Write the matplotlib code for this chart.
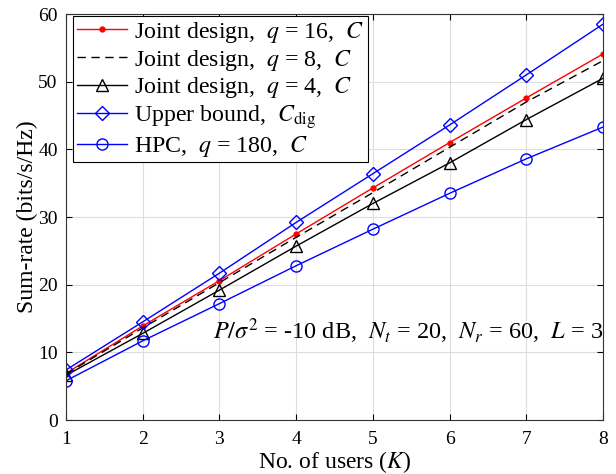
import matplotlib.pyplot as plt

plt.rcParams['font.family'] = ['Liberation Serif', 'DejaVu Serif']
plt.rcParams['mathtext.fontset'] = 'stix'

users = [1, 2, 3, 4, 5, 6, 7, 8]
joint_q16 = [6.9, 13.9, 20.6, 27.5, 34.3, 41.0, 47.6, 54.1]
joint_q8 = [6.8, 13.6, 20.3, 27.0, 33.6, 40.3, 47.0, 53.1]
joint_q4 = [6.6, 12.8, 19.2, 25.7, 32.0, 38.0, 44.4, 50.5]
upper = [7.4, 14.5, 21.7, 29.2, 36.4, 43.6, 51.0, 58.5]
hpc = [5.8, 11.7, 17.2, 22.8, 28.2, 33.5, 38.6, 43.3]

fig = plt.figure(figsize=(6.16, 4.74), dpi=100)
ax = fig.add_axes([0.1071, 0.1139, 0.8718, 0.8565])

ax.plot(users, joint_q16, color='red', marker='.', ms=7, lw=1,
        label=r'Joint design,  $q$ = 16,  $C$')
ax.plot(users, joint_q8, color='black', ls='--', lw=1, dashes=(6, 4),
        label=r'Joint design,  $q$ = 8,  $C$')
ax.plot(users, joint_q4, color='black', marker='^', ms=9, mfc='none', lw=1,
        label=r'Joint design,  $q$ = 4,  $C$')
ax.plot(users, upper, color='blue', marker='D', ms=7, mfc='none', lw=1,
        label=r'Upper bound,  $C_{\mathrm{dig}}$')
ax.plot(users, hpc, color='blue', marker='o', ms=8, mfc='none', lw=1,
        label=r'HPC,  $q$ = 180,  $C$')

ax.set_xlim(1, 8)
ax.set_ylim(0, 60)
ax.set_xticks(users)
ax.set_yticks(range(0, 61, 10))
ax.grid(True, color='#dddddd', lw=0.8)
ax.tick_params(direction='in', labelsize=14, top=True, right=True, length=4)
ax.tick_params(axis='x', pad=8)
ax.tick_params(axis='y', pad=6)
for s in ax.spines.values():
    s.set_color('#333333')

ax.set_xlabel(r'No. of users ($K$)', fontsize=17, labelpad=1)
ax.set_ylabel('Sum-rate (bits/s/Hz)', fontsize=17, labelpad=0)

ax.text(8.0, 12.0,
        r'$P/\sigma^2$ = -10 dB,  $N_t$ = 20,  $N_r$ = 60,  $L$ = 3',
        fontsize=17.5, ha='right', va='baseline')

leg = ax.legend(loc='upper left', bbox_to_anchor=(0.014, 0.995), fontsize=17.2,
                fancybox=False, framealpha=1, edgecolor='black',
                borderaxespad=0, labelspacing=0.12,
                handlelength=2.1, handletextpad=0.3, borderpad=0.15)
leg.get_frame().set_linewidth(0.8)

plt.savefig('out.png', dpi=100)
